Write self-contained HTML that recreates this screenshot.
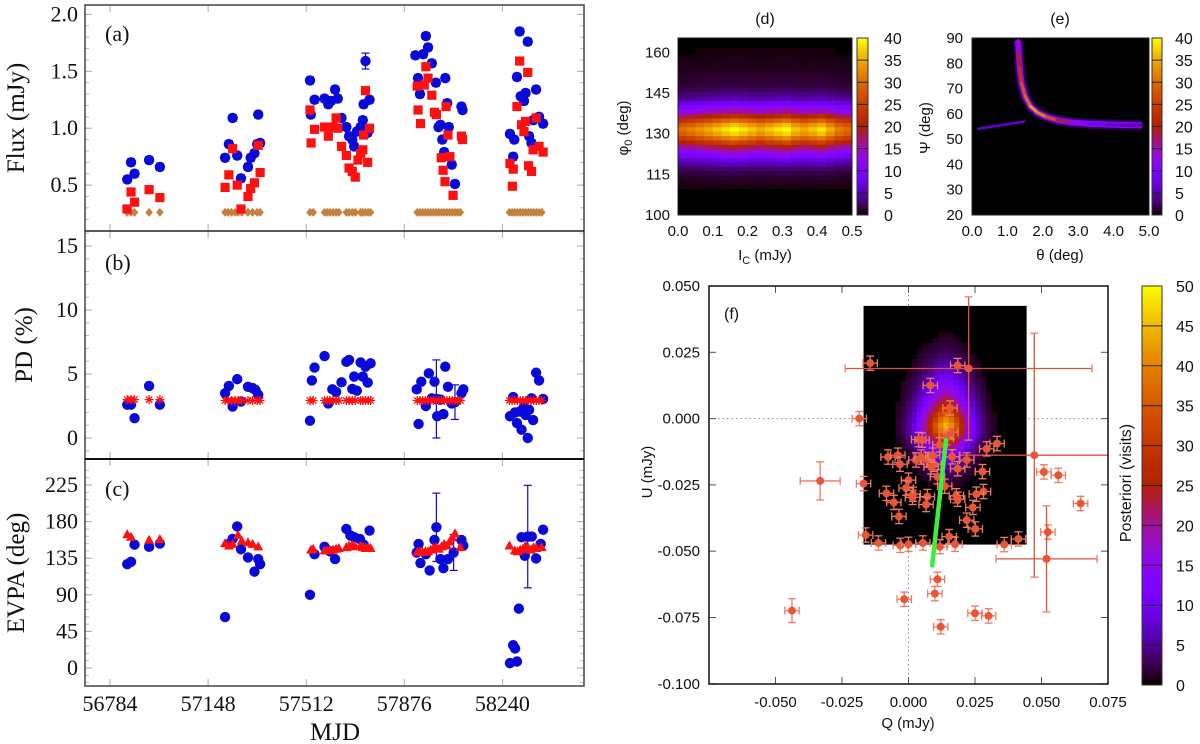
<!DOCTYPE html>
<html><head><meta charset="utf-8"><title>Blazar polarization figure</title>
<style>
html,body{margin:0;padding:0;background:#fff;}
svg{display:block;}
.serif{font-family:"Liberation Serif",serif;}
.sans{font-family:"Liberation Sans",sans-serif;}
</style></head>
<body>
<svg id="fig" width="1200" height="744" viewBox="0 0 1200 744" xmlns="http://www.w3.org/2000/svg">
<defs></defs>
<g id="left"></g>
<g id="pd"></g>
<g id="pe"></g>
<g id="pf"></g>
</svg>
<script>
// ---------------- DATA ----------------
const mjdTicks = [56784, 57148, 57512, 57876, 58240];
const fluxTicks = [0.5, 1.0, 1.5, 2.0];
const pdTicks = [0, 5, 10, 15];
const evpaTicks = [0, 45, 90, 135, 180, 225];

const fluxBlue = [[56848,.55],[56862,.70],[56875,.60],[56929,.72],[56969,.66],
[57211,.74],[57225,.86],[57239,1.09],[57256,.76],[57270,.56],[57296,.66],[57306,.74],[57320,.78],[57330,.86],[57334,1.12],[57341,.87],
[57526,1.42],[57529,1.12],[57543,1.25],[57580,1.26],[57594,1.21],[57604,1.24],[57619,1.34],[57629,1.26],[57643,1.09],[57661,1.01],[57671,.93],[57683,.90],[57690,.84],[57700,.97],[57714,1.01],[57722,1.07],[57725,1.21],[57732,1.59],[57740,.96],[57747,1.25],
[57917,1.64],[57927,1.44],[57934,1.30],[57946,1.65],[57956,1.81],[57964,1.71],[57978,1.57],[57993,1.40],[58003,1.01],[58010,1.03],[58017,.90],[58024,.79],[58028,1.44],[58035,1.22],[58041,1.01],[58052,.68],[58064,.51],[58088,1.19],[58092,1.16],
[58268,.95],[58280,.75],[58284,.90],[58294,1.45],[58304,1.85],[58308,1.28],[58320,1.24],[58326,1.31],[58334,1.76],[58339,.93],[58348,.87],[58354,1.07],[58365,1.34],[58376,1.10],[58391,1.04]];
const fluxRed = [[56847,.29],[56862,.44],[56875,.35],[56929,.46],[56969,.39],
[57211,.48],[57225,.59],[57239,.82],[57256,.50],[57270,.29],[57296,.40],[57306,.47],[57320,.52],[57334,.85],[57341,.61],
[57526,1.16],[57530,.87],[57543,.99],[57580,1.01],[57594,.93],[57612,1.01],[57623,1.09],[57629,1.0],[57643,.84],[57661,.76],[57671,.65],[57683,.62],[57694,.57],[57704,.72],[57714,.78],[57722,.81],[57725,.94],[57732,1.33],[57740,.70],[57747,1.0],
[57924,1.37],[57927,1.16],[57936,1.04],[57950,1.38],[57956,1.54],[57964,1.44],[57978,1.29],[57988,1.14],[57995,1.12],[58013,.74],[58020,.63],[58027,.53],[58031,1.19],[58038,.94],[58045,.75],[58057,.41],[58088,.93],[58092,.90],
[58268,.69],[58277,.49],[58280,.64],[58294,1.19],[58304,1.59],[58311,1.03],[58320,.97],[58326,1.06],[58334,1.49],[58337,.67],[58348,.62],[58354,.81],[58365,1.09],[58376,.84],[58391,.79]];
const constMJD = [56848,56862,56875,56929,56969,57211,57222,57235,57248,57259,57273,57296,57313,57330,57341,
57526,57538,57580,57590,57600,57612,57623,57633,57661,57671,57683,57694,57714,57722,57732,57742,57751,
57924,57934,57944,57954,57964,57974,57984,57994,58004,58014,58024,58034,58044,58054,58064,58074,58084,
58266,58276,58286,58296,58306,58316,58326,58336,58346,58356,58366,58376,58386];
const constFlux = constMJD.map(() => 0.26);
const constPD = constMJD.map((m) => m < 57000 ? 3.0 : 2.93);

const pdBlue = [[56848,2.6],[56862,2.6],[56875,1.55],[56929,4.07],[56969,2.6],
[57211,3.5],[57225,4.07],[57239,2.46],[57256,4.6],[57270,2.85],[57296,4.0],[57313,3.9],[57324,3.75],[57334,3.37],
[57526,1.35],[57533,4.5],[57543,5.5],[57580,6.4],[57594,2.7],[57609,3.8],[57623,3.6],[57643,4.35],[57661,5.95],[57671,6.1],[57683,3.83],[57690,4.8],[57700,3.7],[57714,5.9],[57722,4.8],[57732,5.57],[57740,4.33],[57751,5.83],
[57922,3.8],[57929,1.1],[57939,4.4],[57956,2.5],[57967,5.05],[57978,3.1],[57988,4.4],[57995,3.05],[57998,1.7],[58010,3.0],[58021,1.87],[58028,5.57],[58038,4.0],[58052,2.7],[58064,2.8],[58088,3.5],[58095,3.8],
[58268,1.7],[58280,3.2],[58287,2.0],[58294,1.17],[58304,2.07],[58311,0.65],[58320,2.46],[58326,1.8],[58334,0],[58339,2.2],[58348,3.1],[58354,1.4],[58365,5.1],[58376,4.5],[58391,3.05]];
const pdBigErr = [[57995,3.05],[58064,1.35]];

const evpaBlue = [[56848,127.6],[56862,130.5],[56875,151.7],[56929,149],[56969,153],
[57211,62.6],[57225,152.5],[57239,158.7],[57256,174],[57270,146],[57296,136],[57320,118.5],[57334,134],[57341,127.6],
[57526,90],[57543,140],[57580,149],[57600,143.4],[57619,134],[57661,171],[57676,163],[57690,160.8],[57711,158.7],[57725,151.7],[57747,169],
[57922,142],[57929,152.5],[57936,129],[57956,140],[57970,120],[57988,157.5],[57995,173],[58010,134],[58021,122.7],[58038,134],[58059,142],[58088,157.5],[58095,150.4],
[58268,6],[58280,28],[58287,24],[58294,8],[58301,73],[58311,160.8],[58323,138],[58334,161.6],[58349,161.6],[58365,134.7],[58382,152.5],[58391,170]];
const evpaBigErr = [[57995,42],[58334,63],[58059,22]];
const evpaRed = [[56848,164],[56862,160.8],[56929,157],[56969,158],
[57211,153],[57225,150],[57239,152],[57259,163],[57273,156],[57296,154],[57313,152],[57334,149],
[57530,145],[57538,146],[57580,144],[57590,144],[57600,144],[57612,145],[57623,146],[57633,147],[57661,148],[57671,150],[57683,151],[57694,149],[57714,150],[57722,148],[57732,147],[57742,148],[57751,147],
[57924,142],[57934,143],[57944,142],[57954,143],[57964,143],[57974,145],[57984,147],[57994,148],[58004,146],[58014,149],[58024,152],[58034,150],[58044,155],[58054,160],[58064,165],[58084,148],
[58266,150],[58286,144],[58296,143],[58306,145],[58316,146],[58326,150],[58336,147],[58346,145],[58356,148],[58366,147],[58386,148]];

// heatmap (d)
const dRowCounts = [0,0,0,0,0,0,0.4,0.6,1,1.5,2.5,4,6,9,12,16,21,26,30,32,29,24,18,13,10,7,4,3,2,1.5,1,1,0.7,0.6,0.5,0.4,0.3,0.3,0.2,0.2];
const dColWeights = [0.9,0.95,1.0,1.05,1.1,1.15,1.2,1.15,1.1,1.05,1.1,1.15,1.2,1.1,1.05,1.1,1.15,1.05,0.95,0.9];
// heatmap (e) ridge
const eTheta = [1.3,1.32,1.35,1.4,1.5,1.65,1.85,2.1,2.4,2.8,3.3,3.8,4.3,4.8];
const ePsi = [89,84,78,72,67,63,60.5,58.8,57.5,56.6,56.1,55.8,55.6,55.5];
const eCount = [14,20,24,28,30,34,32,28,18,12,8,6,5,4];
const eArmTheta = [0.15,0.8,1.5];
const eArmPsi = [54,55.5,57];
// heatmap (f)
const fQProfile = [0,0.01,0.02,0.03,0.05,0.08,0.12,0.18,0.26,0.36,0.48,0.6,0.72,0.84,0.94,1.0,0.95,0.85,0.72,0.58,0.45,0.33,0.23,0.15,0.1,0.06,0.04,0.02,0.01,0,0];
const fUProfile = [0.02,0.03,0.04,0.05,0.07,0.09,0.11,0.14,0.17,0.21,0.25,0.3,0.35,0.4,0.46,0.52,0.58,0.65,0.72,0.8,0.88,0.95,1.0,0.98,0.9,0.78,0.65,0.52,0.42,0.34,0.27,0.21,0.16,0.12,0.09,0.07,0.05,0.04,0.03,0.02,0.015,0.01,0.01,0,0];
// Q-U points
const fQ = [-0.0144,0.0185,0.0226,0.0082,-0.0185,0.0156,0.0473,0.0333,0.0294,0.0509,0.0563,0.0647,0.0524,0.0519,-0.0332,-0.0169,-0.0438,-0.0016,0.0109,0.0099,0.0121,0.025,0.0301,-0.0161,-0.0113,-0.0031,0.0,0.0054,0.0118,0.0153,0.0175,0.036,0.0413,0.0251,0.0219,0.0242,0.0282,0.0255,0.018,0.0185,0.0136,0.0278,0.0185,0.0219,0.0164,0.0109,0.0095,0.0071,0.0028,0.0048,0.0091,-0.0077,-0.004,-0.0032,0.0,-0.0009,0.0017,0.0015,0.0071,0.0066,-0.0083,-0.0055,-0.0036,0.0038,0.0051,0.0159,0.0142,0.0118,0.0085];
const fU = [0.0209,0.020,0.0189,0.0125,0.0,0.004,-0.0138,-0.0094,-0.0114,-0.0201,-0.0214,-0.032,-0.0428,-0.0529,-0.0235,-0.0245,-0.0724,-0.0681,-0.0606,-0.066,-0.0785,-0.0734,-0.0744,-0.0439,-0.0469,-0.0478,-0.0474,-0.0469,-0.0483,-0.0445,-0.0474,-0.0475,-0.0454,-0.0416,-0.0383,-0.0335,-0.0275,-0.0285,-0.0291,-0.0304,-0.0255,-0.02,-0.0189,-0.0156,-0.0144,-0.0219,-0.0172,-0.0154,-0.0156,-0.0145,-0.0138,-0.0145,-0.0138,-0.0172,-0.0232,-0.0262,-0.0285,-0.0297,-0.0294,-0.0324,-0.0282,-0.0316,-0.0369,-0.0079,-0.0081,-0.0051,-0.0072,-0.0099,-0.0182];
const fQErrBig = {2:0.0464, 6:0.028, 13:0.019, 14:0.0075};
const fUErrBig = {2:0.027, 6:0.046, 13:0.020, 14:0.0072, 16:0.0045};
const greenQ = [0.0141,0.0089];
const greenU = [-0.0081,-0.0554];
const dTicksX = [0.0,0.1,0.2,0.3,0.4,0.5];
const dTicksY = [100,115,130,145,160];
const eTicksX = [0,1,2,3,4,5];
const eTicksY = [20,30,40,50,60,70,80,90];
const fTicksQ = [-0.050,-0.025,0.000,0.025,0.050,0.075];
const fTicksU = [-0.100,-0.075,-0.050,-0.025,0.000,0.025,0.050];

// ---------------- HELPERS ----------------
const NS = "http://www.w3.org/2000/svg";
function mk(parent, tag, attrs, text) {
  const el = document.createElementNS(NS, tag);
  for (const k in attrs) el.setAttribute(k, attrs[k]);
  if (text !== undefined) el.textContent = text;
  parent.appendChild(el);
  return el;
}
function pal(x) {
  x = Math.max(0, Math.min(1, x));
  const r = Math.sqrt(x), g = x * x * x, b = Math.max(0, Math.sin(2 * Math.PI * x));
  return "rgb(" + Math.round(r * 255) + "," + Math.round(g * 255) + "," + Math.round(b * 255) + ")";
}
const defs = document.querySelector("defs");
function gradient(id) {
  const lg = mk(defs, "linearGradient", {id: id, x1: 0, y1: 1, x2: 0, y2: 0});
  for (let i = 0; i <= 40; i++) mk(lg, "stop", {offset: (i / 40), "stop-color": pal(i / 40)});
}
gradient("palg");

// ---------------- LEFT PANELS ----------------
const L = document.getElementById("left");
const xL = (m) => 110 + (m - 56784) * 0.26951;
const yA = (f) => 242 - 113.8 * f;
const yB = (p) => 438 - 12.8 * p;
const yC = (e) => 668 - 0.8133 * e;
const LX0 = 85, LX1 = 584;
const panels = [
  {name: "flux-panel", y0: 5, y1: 231, ticks: fluxTicks, minor: 0.1, lo: 0.15, hi: 2.1, map: yA, fmt: (v) => v.toFixed(1), lab: "(a)", ylab: "Flux (mJy)", ly: 33, yl: 118},
  {name: "pd-panel", y0: 231, y1: 459, ticks: pdTicks, minor: 1, lo: -1, hi: 16, map: yB, fmt: (v) => String(v), lab: "(b)", ylab: "PD (%)", ly: 262, yl: 345},
  {name: "evpa-panel", y0: 459, y1: 686, ticks: evpaTicks, minor: 9, lo: -18, hi: 250, map: yC, fmt: (v) => String(v), lab: "(c)", ylab: "EVPA (deg)", ly: 488, yl: 573}
];
panels.forEach((p) => {
  const g = mk(L, "g", {});
  
  
  for (let v = Math.ceil(p.lo / p.minor) * p.minor; v <= p.hi; v += p.minor) {
    const y = p.map(v);
    if (y <= p.y0 + 1 || y >= p.y1 - 1) continue;
    mk(g, "line", {x1: LX0, x2: LX0 + 4, y1: y, y2: y, stroke: "#bbb", "stroke-width": 1});
    mk(g, "line", {x1: LX1, x2: LX1 - 4, y1: y, y2: y, stroke: "#bbb", "stroke-width": 1});
  }
  p.ticks.forEach((v) => {
    const y = p.map(v);
    mk(g, "line", {x1: LX0, x2: LX0 + 7, y1: y, y2: y, stroke: "#aaa", "stroke-width": 1});
    mk(g, "line", {x1: LX1, x2: LX1 - 7, y1: y, y2: y, stroke: "#aaa", "stroke-width": 1});
    const t = mk(g, "text", {x: 78, y: y + 7, "text-anchor": "end", "font-size": 22, class: "serif", fill: "#111"}, p.fmt(v));
    
    
  });
  mjdTicks.forEach((m) => {
    const x = xL(m);
    mk(g, "line", {x1: x, x2: x, y1: p.y1, y2: p.y1 - 7, stroke: "#aaa", "stroke-width": 1});
    mk(g, "line", {x1: x, x2: x, y1: p.y0, y2: p.y0 + 7, stroke: "#aaa", "stroke-width": 1});
  });
  const lab = mk(g, "text", {x: 105, y: p.ly + 8, "font-size": 22, class: "serif", fill: "#111"}, p.lab);
  
  
  const yl = mk(g, "text", {x: 0, y: 0, "font-size": 25, class: "serif", "text-anchor": "middle", fill: "#111", transform: "translate(" + (p.ylab === "PD (%)" ? 32 : 24) + "," + p.yl + ") rotate(-90)"}, p.ylab);
  
  
});
mk(L, "rect", {x: LX0, y: 5, width: LX1 - LX0, height: 681, fill: "none", stroke: "#444", "stroke-width": 1.5});
mk(L, "line", {x1: LX0, x2: LX1, y1: 231, y2: 231, stroke: "#222", "stroke-width": 1.5});
mk(L, "line", {x1: LX0, x2: LX1, y1: 459, y2: 459, stroke: "#111", "stroke-width": 2});
mjdTicks.forEach((m) => {
  const t = mk(L, "text", {x: xL(m), y: 711, "text-anchor": "middle", "font-size": 22, class: "serif", fill: "#111"}, String(m));
  
  
});
const xt = mk(L, "text", {x: 335, y: 740, "text-anchor": "middle", "font-size": 25, class: "serif", fill: "#111"}, "MJD");



const BLUE = "#0a0ad8", RED = "#ff1010", BROWN = "#c4803c";
function errbar(g, x, ya, yb, col) {
  mk(g, "line", {x1: x, x2: x, y1: ya, y2: yb, stroke: col, "stroke-width": 1.2});
  mk(g, "line", {x1: x - 4, x2: x + 4, y1: ya, y2: ya, stroke: col, "stroke-width": 1.2});
  mk(g, "line", {x1: x - 4, x2: x + 4, y1: yb, y2: yb, stroke: col, "stroke-width": 1.2});
}
const gFlux = mk(L, "g", {});


constMJD.forEach((m, i) => {
  const x = xL(m), y = yA(constFlux[i]);
  const d = mk(gFlux, "polygon", {points: (x) + "," + (y - 4.5) + " " + (x + 3.8) + "," + y + " " + x + "," + (y + 4.5) + " " + (x - 3.8) + "," + y, fill: BROWN});
  
  
});
fluxBlue.forEach(([m, v]) => {
  const x = xL(m), e = (m === 57732) ? 0.07 : 0.03;
  errbar(gFlux, x, yA(v + e), yA(v - e), BLUE);
  const c = mk(gFlux, "circle", {cx: x, cy: yA(v), r: 5.2, fill: BLUE});
  
  
});
fluxRed.forEach(([m, v]) => {
  const x = xL(m), y = yA(v);
  const r = mk(gFlux, "rect", {x: x - 4.6, y: y - 4.6, width: 9.2, height: 9.2, fill: RED});
  
  
});
const gPD = mk(L, "g", {});


pdBigErr.forEach(([m, e]) => {
  const pt = pdBlue.find((d) => d[0] === m);
  if (!pt) return;
  errbar(gPD, xL(m), yB(pt[1] + e), yB(pt[1] - e), BLUE);
});
pdBlue.forEach(([m, v]) => {
  const x = xL(m);
  errbar(gPD, x, yB(v + 0.2), yB(v - 0.2), BLUE);
  const c = mk(gPD, "circle", {cx: x, cy: yB(v), r: 5.2, fill: BLUE});
  
  
});
constMJD.forEach((m, i) => {
  const x = xL(m), y = yB(constPD[i]);
  const s = mk(gPD, "path", {d: "M" + (x - 4.5) + " " + y + "h9M" + x + " " + (y - 4.5) + "v9M" + (x - 3.2) + " " + (y - 3.2) + "l6.4 6.4M" + (x - 3.2) + " " + (y + 3.2) + "l6.4 -6.4", stroke: RED, "stroke-width": 1.3, fill: "none"});
  
  
});
const gEV = mk(L, "g", {});


evpaBigErr.forEach(([m, e]) => {
  const pt = evpaBlue.find((d) => d[0] === m);
  if (!pt) return;
  errbar(gEV, xL(m), yC(pt[1] + e), yC(pt[1] - e), BLUE);
});
evpaBlue.forEach(([m, v]) => {
  const c = mk(gEV, "circle", {cx: xL(m), cy: yC(v), r: 5.2, fill: BLUE});
  
  
});
evpaRed.forEach(([m, v]) => {
  const x = xL(m), y = yC(v);
  const t = mk(gEV, "polygon", {points: x + "," + (y - 5.5) + " " + (x + 5) + "," + (y + 3.5) + " " + (x - 5) + "," + (y + 3.5), fill: RED});
  
  
});

function colorbar(g, x, y0, y1, w, vmax, step, lx, name) {
  const cb = mk(g, "g", {});
  
  
  mk(cb, "rect", {x: x, y: y0, width: w, height: y1 - y0, fill: "url(#palg)", stroke: "#333", "stroke-width": 1});
  for (let v = 0; v <= vmax; v += step) {
    const y = y1 - (y1 - y0) * v / vmax;
    if (v > 0 && v < vmax) mk(cb, "line", {x1: x, x2: x + w, y1: y, y2: y, stroke: "#222", "stroke-width": 1});
    const t = mk(cb, "text", {x: lx, y: y + 6, "font-size": 16, class: "sans", fill: "#111"}, String(v));
    
    
  }
}

// ---------------- PANEL D ----------------
const D = document.getElementById("pd");
const xD = (v) => 678 + v * 348;
const yD = (p) => 215 - (p - 100) * 2.71;
mk(D, "rect", {x: 678, y: 38, width: 174, height: 177, fill: "#000"});
const dRowH = 1.625, dColW = 0.5 / dColWeights.length;
dRowCounts.forEach((rc, i) => {
  dColWeights.forEach((cw, j) => {
    const v = rc * cw * 1.05;
    if (v < 0.3) return;
    const ytop = Math.max(38, yD(100 + (i + 1) * dRowH));
    const cell = mk(D, "rect", {x: xD(j * dColW), y: ytop, width: xD((j + 1) * dColW) - xD(j * dColW) + 0.3, height: yD(100 + i * dRowH) - ytop + 0.3, fill: pal(v / 40)});
    
    
  });
});
mk(D, "rect", {x: 678, y: 38, width: 174, height: 177, fill: "none", stroke: "#222", "stroke-width": 1});
dTicksX.forEach((v) => {
  const t = mk(D, "text", {x: xD(v), y: 236, "text-anchor": "middle", "font-size": 15, class: "sans", fill: "#111"}, v.toFixed(1));
  
  
});
dTicksY.forEach((v) => {
  const t = mk(D, "text", {x: 670, y: yD(v) + 5, "text-anchor": "end", "font-size": 15, class: "sans", fill: "#111"}, String(v));
  
  
});
colorbar(D, 857, 38, 215, 11, 40, 5, 884, "colorbar-d");
let t;
t = mk(D, "text", {x: 765, y: 24, "text-anchor": "middle", "font-size": 16, class: "sans", fill: "#111"}, "(d)");


t = mk(D, "text", {x: 765, y: 260, "text-anchor": "middle", "font-size": 15, class: "sans", fill: "#111"});
t.innerHTML = 'I<tspan font-size="11" dy="4">C</tspan><tspan dy="-4"> (mJy)</tspan>';


t = mk(D, "text", {x: 0, y: 0, "text-anchor": "middle", "font-size": 15, class: "sans", fill: "#111", transform: "translate(628,128) rotate(-90)"});
t.innerHTML = 'φ<tspan font-size="11" dy="4">0</tspan><tspan dy="-4"> (deg)</tspan>';



// ---------------- PANEL E ----------------
const E = document.getElementById("pe");
const xE = (v) => 972 + v * 35.4;
const yE = (p) => 215 - (p - 20) * 2.529;
mk(E, "rect", {x: 972, y: 38, width: 177, height: 177, fill: "#000"});
const clipE = mk(defs, "clipPath", {id: "clipE"});
mk(clipE, "rect", {x: 972, y: 38, width: 177, height: 177});
const gE = mk(E, "g", {"clip-path": "url(#clipE)"});
let pts = eArmTheta.map((th, i) => xE(th) + "," + yE(eArmPsi[i])).join(" ");
let pl = mk(gE, "polyline", {points: pts, fill: "none", stroke: pal(6 / 40), "stroke-width": 2.5});


pts = eTheta.map((th, i) => xE(th) + "," + yE(ePsi[i])).join(" ");
pl = mk(gE, "polyline", {points: pts, fill: "none", stroke: pal(4 / 40), "stroke-width": 10, "stroke-linejoin": "round", opacity: 0.55});


pl = mk(gE, "polyline", {points: pts, fill: "none", stroke: pal(11 / 40), "stroke-width": 6, "stroke-linejoin": "round"});


for (let i = 0; i < eTheta.length - 1; i++) {
  const seg = mk(gE, "line", {x1: xE(eTheta[i]), y1: yE(ePsi[i]), x2: xE(eTheta[i + 1]), y2: yE(ePsi[i + 1]), stroke: pal(eCount[i] / 40), "stroke-width": 3, "stroke-linecap": "round"});
  
  
}
mk(E, "rect", {x: 972, y: 38, width: 177, height: 177, fill: "none", stroke: "#222", "stroke-width": 1});
eTicksX.forEach((v) => {
  t = mk(E, "text", {x: xE(v), y: 236, "text-anchor": "middle", "font-size": 15, class: "sans", fill: "#111"}, v.toFixed(1));
  
  
});
eTicksY.forEach((v) => {
  t = mk(E, "text", {x: 963, y: yE(v) + 5, "text-anchor": "end", "font-size": 15, class: "sans", fill: "#111"}, String(v));
  
  
});
colorbar(E, 1152, 38, 215, 10, 40, 5, 1175, "colorbar-e");
t = mk(E, "text", {x: 1060, y: 24, "text-anchor": "middle", "font-size": 16, class: "sans", fill: "#111"}, "(e)");


t = mk(E, "text", {x: 1060, y: 260, "text-anchor": "middle", "font-size": 15, class: "sans", fill: "#111"}, "θ (deg)");


t = mk(E, "text", {x: 0, y: 0, "text-anchor": "middle", "font-size": 15, class: "sans", fill: "#111", transform: "translate(930,128) rotate(-90)"}, "Ψ (deg)");



// ---------------- PANEL F ----------------
const F = document.getElementById("pf");
const xF = (q) => 709 + (q + 0.075) * 2660;
const yF = (u) => 286 + (0.05 - u) * 2652;
mk(F, "rect", {x: 709, y: 286, width: 399, height: 398, fill: "#fff"});
mk(F, "line", {x1: xF(0), x2: xF(0), y1: 286, y2: 684, stroke: "#888", "stroke-width": 1, "stroke-dasharray": "1.5,3"});
mk(F, "line", {x1: 709, x2: 1108, y1: yF(0), y2: yF(0), stroke: "#888", "stroke-width": 1, "stroke-dasharray": "1.5,3"});
const hQ0 = -0.0169, hU0 = 0.0425, hStep = 0.002;
mk(F, "rect", {x: xF(hQ0), y: yF(hU0), width: xF(0.0444) - xF(hQ0), height: yF(-0.0475) - yF(hU0), fill: "#000"});
fUProfile.forEach((uw, i) => {
  fQProfile.forEach((qw, j) => {
    const v = 45 * Math.pow(uw * qw, 1.6);
    if (v < 0.8) return;
    const x0 = xF(hQ0 + j * hStep), x1 = Math.min(xF(0.0444), xF(hQ0 + (j + 1) * hStep));
    const y0 = yF(hU0 - i * hStep), y1 = Math.min(yF(-0.0475), yF(hU0 - (i + 1) * hStep));
    const cell = mk(F, "rect", {x: x0, y: y0, width: x1 - x0 + 0.3, height: y1 - y0 + 0.3, fill: pal(v / 50)});
    
    
  });
});
fTicksQ.forEach((q) => {
  const x = xF(q);
  mk(F, "line", {x1: x, x2: x, y1: 684, y2: 677, stroke: "#555"});
  mk(F, "line", {x1: x, x2: x, y1: 286, y2: 293, stroke: "#555"});
  t = mk(F, "text", {x: x, y: 707, "text-anchor": "middle", "font-size": 15, class: "sans", fill: "#111"}, q.toFixed(3));
  
  
});
fTicksU.forEach((u) => {
  const y = yF(u);
  mk(F, "line", {x1: 709, x2: 716, y1: y, y2: y, stroke: "#555"});
  mk(F, "line", {x1: 1108, x2: 1101, y1: y, y2: y, stroke: "#555"});
  t = mk(F, "text", {x: 700, y: y + 5, "text-anchor": "end", "font-size": 15, class: "sans", fill: "#111"}, u.toFixed(3));
  
  
});
const clipF = mk(defs, "clipPath", {id: "clipF"});
mk(clipF, "rect", {x: 709, y: 286, width: 399, height: 398});
const gP = mk(F, "g", {"clip-path": "url(#clipF)"});
const EB = "#ee7a66";
fQ.forEach((q, i) => {
  const u = fU[i];
  const eq = fQErrBig[i] || 0.0027, eu = fUErrBig[i] || 0.0027;
  const x = xF(q), y = yF(u);
  const xa = xF(q - eq), xb = xF(q + eq), ya = yF(u + eu), yb = yF(u - eu);
  const big = !!(fQErrBig[i]);
  const col = big && eq > 0.015 ? "#d9533a" : EB;
  mk(gP, "line", {x1: xa, x2: xb, y1: y, y2: y, stroke: col, "stroke-width": 1.3});
  mk(gP, "line", {x1: x, x2: x, y1: ya, y2: yb, stroke: col, "stroke-width": 1.3});
  mk(gP, "line", {x1: xa, x2: xa, y1: y - 4, y2: y + 4, stroke: EB, "stroke-width": 1.3});
  mk(gP, "line", {x1: xb, x2: xb, y1: y - 4, y2: y + 4, stroke: EB, "stroke-width": 1.3});
  mk(gP, "line", {x1: x - 4, x2: x + 4, y1: ya, y2: ya, stroke: EB, "stroke-width": 1.3});
  mk(gP, "line", {x1: x - 4, x2: x + 4, y1: yb, y2: yb, stroke: EB, "stroke-width": 1.3});
  const c = mk(gP, "circle", {cx: x, cy: y, r: 4, fill: "#ea5535"});
  
  
});
const gl = mk(F, "line", {x1: xF(greenQ[0]), y1: yF(greenU[0]), x2: xF(greenQ[1]), y2: yF(greenU[1]), stroke: "#3af03a", "stroke-width": 4.5, "stroke-linecap": "round"});


mk(F, "rect", {x: 709, y: 286, width: 399, height: 398, fill: "none", stroke: "#111", "stroke-width": 1.5});
t = mk(F, "text", {x: 724, y: 319, "font-size": 16, class: "sans", fill: "#111"}, "(f)");


t = mk(F, "text", {x: 908, y: 728, "text-anchor": "middle", "font-size": 15, class: "sans", fill: "#111", "xml:space": "preserve"}, "Q   (mJy)");


t = mk(F, "text", {x: 0, y: 0, "text-anchor": "middle", "font-size": 15, class: "sans", fill: "#111", "xml:space": "preserve", transform: "translate(652,472) rotate(-90)"}, "U   (mJy)");


colorbar(F, 1142, 286, 685, 20, 50, 5, 1176, "colorbar-f");
t = mk(F, "text", {x: 0, y: 0, "text-anchor": "middle", "font-size": 16, class: "sans", fill: "#111", transform: "translate(1131,483) rotate(-90)"}, "Posteriori (visits)");


</script>
</body></html>
